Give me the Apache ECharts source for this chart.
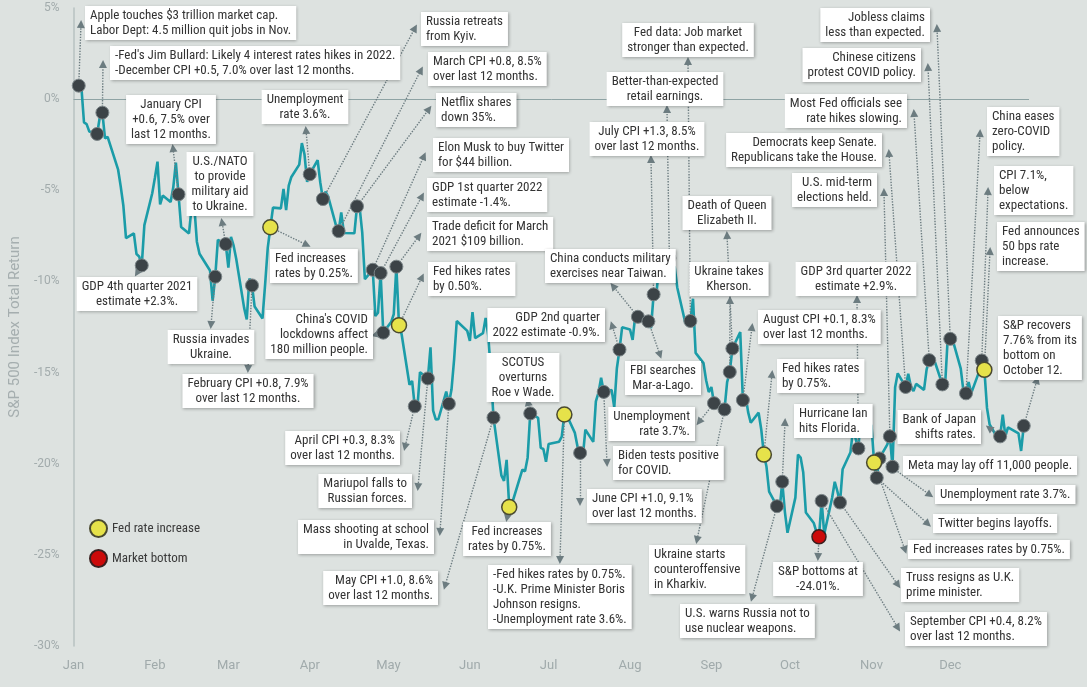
<!DOCTYPE html>
<html>
<head>
<meta charset="utf-8">
<title>S&P 500 2022</title>
<script src="https://cdn.jsdelivr.net/npm/echarts@6/dist/echarts.min.js"></script>
</head>
<body style="margin:0; background:#dde2e0">
<div id="chart" style="width:1087px;height:687px"></div>
<script>
// trading days of 2022 (MM-DD) and S&P 500 total return since 31 Dec 2021 (%)
var tradeDays = [
  '01-03','01-04','01-05','01-06','01-07','01-10','01-11','01-12','01-13','01-14','01-18','01-19','01-20','01-21','01-24','01-25','01-26','01-27','01-28','01-31',
  '02-01','02-02','02-03','02-04','02-07','02-08','02-09','02-10','02-11','02-14','02-15','02-16','02-17','02-18','02-22','02-23','02-24','02-25','02-28',
  '03-01','03-02','03-03','03-04','03-07','03-08','03-09','03-10','03-11','03-14','03-15','03-16','03-17','03-18','03-21','03-22','03-23','03-24','03-25','03-28','03-29','03-30','03-31',
  '04-01','04-04','04-05','04-06','04-07','04-08','04-11','04-12','04-13','04-14','04-18','04-19','04-20','04-21','04-22','04-25','04-26','04-27','04-28','04-29',
  '05-02','05-03','05-04','05-05','05-06','05-09','05-10','05-11','05-12','05-13','05-16','05-17','05-18','05-19','05-20','05-23','05-24','05-25','05-26','05-27','05-31',
  '06-01','06-02','06-03','06-06','06-07','06-08','06-09','06-10','06-13','06-14','06-15','06-16','06-17','06-21','06-22','06-23','06-24','06-27','06-28','06-29','06-30',
  '07-01','07-05','07-06','07-07','07-08','07-11','07-12','07-13','07-14','07-15','07-18','07-19','07-20','07-21','07-22','07-25','07-26','07-27','07-28','07-29',
  '08-01','08-02','08-03','08-04','08-05','08-08','08-09','08-10','08-11','08-12','08-15','08-16','08-17','08-18','08-19','08-22','08-23','08-24','08-25','08-26','08-29','08-30','08-31',
  '09-01','09-02','09-06','09-07','09-08','09-09','09-12','09-13','09-14','09-15','09-16','09-19','09-20','09-21','09-22','09-23','09-26','09-27','09-28','09-29','09-30',
  '10-03','10-04','10-05','10-06','10-07','10-10','10-11','10-12','10-13','10-14','10-17','10-18','10-19','10-20','10-21','10-24','10-25','10-26','10-27','10-28','10-31',
  '11-01','11-02','11-03','11-04','11-07','11-08','11-09','11-10','11-11','11-14','11-15','11-16','11-17','11-18','11-21','11-22','11-23','11-25','11-28','11-29','11-30',
  '12-01','12-02','12-05','12-06','12-07','12-08','12-09','12-12','12-13','12-14','12-15','12-16','12-19','12-20','12-21','12-22','12-23','12-27','12-28','12-29','12-30'
];
var totalReturn = [
  0.74, 0.67, -1.28, -1.37, -1.77, -1.91, -1.01, -0.74, -2.15, -2.07, -3.87, -4.80, -5.85, -7.63, -7.37, -8.50, -8.63, -9.12, -6.91, -5.16,
  -4.33, -3.43, -5.78, -5.29, -5.64, -4.85, -3.48, -5.22, -7.01, -7.37, -5.91, -5.83, -7.82, -8.48, -9.40, -11.06, -9.74, -7.72, -7.95,
  -9.24, -7.56, -8.04, -8.77, -11.45, -12.08, -9.84, -10.22, -11.38, -12.03, -10.16, -8.16, -7.03, -5.95, -5.99, -4.93, -6.09, -4.75, -4.27, -3.59, -2.41, -3.03, -4.54,
  -4.12, -3.35, -4.56, -5.48, -5.08, -5.33, -6.92, -7.24, -6.21, -7.34, -7.36, -5.88, -5.94, -7.32, -9.87, -9.36, -11.90, -11.72, -9.54, -12.81,
  -12.23, -11.80, -9.19, -12.40, -12.90, -15.67, -15.46, -16.85, -16.95, -14.98, -15.32, -13.62, -17.09, -17.57, -17.56, -16.04, -16.71, -15.93, -14.27, -12.17, -12.71,
  -13.26, -11.68, -13.11, -12.84, -12.01, -12.96, -15.01, -17.47, -20.64, -20.94, -19.79, -22.38, -22.21, -20.32, -20.42, -19.67, -17.24, -17.48, -19.13, -19.19, -19.89,
  -18.92, -18.79, -18.51, -17.30, -17.37, -18.31, -19.06, -19.41, -19.65, -18.13, -18.80, -16.58, -16.10, -15.28, -16.06, -15.95, -16.91, -14.76, -13.74, -12.52,
  -12.64, -13.21, -11.87, -11.94, -12.08, -12.19, -12.56, -10.71, -10.78, -9.25, -8.89, -8.72, -9.38, -9.17, -10.33, -12.23, -12.42, -12.17, -10.95, -13.92, -14.48, -15.42, -16.07,
  -15.79, -16.68, -17.02, -15.52, -14.97, -13.68, -12.78, -16.51, -16.23, -17.17, -17.75, -17.20, -18.12, -19.50, -20.17, -21.53, -22.33, -22.50, -20.99, -22.64, -23.79,
  -21.86, -19.50, -19.66, -20.48, -22.68, -23.25, -23.74, -24.01, -22.04, -23.86, -21.87, -20.99, -21.51, -22.13, -20.30, -19.37, -18.07, -18.67, -19.16, -17.19, -17.80,
  -17.91, -19.94, -20.77, -19.71, -18.95, -18.50, -20.17, -15.81, -15.04, -15.79, -15.07, -15.76, -16.02, -15.62, -15.95, -14.82, -14.32, -14.35, -15.65, -15.78, -13.21,
  -13.15, -13.25, -14.78, -15.99, -16.14, -15.52, -16.13, -14.95, -14.34, -14.85, -16.94, -17.85, -18.58, -18.50, -17.31, -18.48, -18.01, -18.34, -19.30, -17.92, -18.12
];
var monthNames = ['Jan','Feb','Mar','Apr','May','Jun','Jul','Aug','Sep','Oct','Nov','Dec'];

var fedDays = ['03-17','05-05','06-16','07-07','09-21','11-02','12-14'];
var bottomDays = ['10-12'];
var newsDays = ['01-03','01-10','01-12','01-27','02-10','02-24','02-28','03-10','04-01','04-06','04-12','04-19',
  '04-25','04-28','04-29','05-04','05-11','05-16','05-24','06-10','06-24','07-13','07-22','07-28','08-04','08-08',
  '08-10','08-16','08-24','09-02','09-06','09-08','09-09','09-13','09-26','09-28','10-13','10-20','10-27','11-03',
  '11-04','11-08','11-09','11-14','11-23','11-28','12-01','12-07','12-13','12-20','12-29'];

var noteDays = ['01-03','01-12','02-10','02-28','01-27','02-24','03-10','03-17','04-01','04-06','04-12','04-19',
  '04-25','04-28','05-04','05-05','04-29','05-11','05-16','05-24','06-10','06-16','06-24','07-07','07-13','07-22',
  '07-28','08-04','08-08','08-10','08-16','08-24','09-09','09-08','09-02','09-06','09-26','09-13','09-21','09-28',
  '10-27','10-12','10-13','10-20','11-02','11-03','11-04','11-09','11-08','11-14','11-23','11-28','12-01','12-07',
  '12-13','12-14','12-29','12-20'];
var noteTexts = [
  'Apple touches $3 trillion market cap.\nLabor Dept: 4.5 million quit jobs in Nov.',
  "-Fed's Jim Bullard: Likely 4 interest rates hikes in 2022.\n-December CPI +0.5, 7.0% over last 12 months.",
  'January CPI\n+0.6, 7.5% over\nlast 12 months.',
  'U.S./NATO\nto provide\nmilitary aid\nto Ukraine.',
  'GDP 4th quarter 2021\nestimate +2.3%.',
  'Russia invades\nUkraine.',
  'February CPI +0.8, 7.9%\nover last 12 months.',
  'Fed increases\nrates by 0.25%.',
  'Unemployment\nrate 3.6%.',
  'Russia retreats\nfrom Kyiv.',
  'March CPI +0.8, 8.5%\nover last 12 months.',
  'Netflix shares\ndown 35%.',
  'Elon Musk to buy Twitter\nfor $44 billion.',
  'GDP 1st quarter 2022\nestimate -1.4%.',
  'Trade deficit for March\n2021 $109 billion.',
  'Fed hikes rates\nby 0.50%.',
  "China's COVID\nlockdowns affect\n180 million people.",
  'April CPI +0.3, 8.3%\nover last 12 months.',
  'Mariupol falls to\nRussian forces.',
  'Mass shooting at school\nin Uvalde, Texas.',
  'May CPI +1.0, 8.6%\nover last 12 months.',
  'Fed increases\nrates by 0.75%.',
  'SCOTUS\noverturns\nRoe v Wade.',
  '-Fed hikes rates by 0.75%.\n-U.K. Prime Minister Boris\nJohnson resigns.\n-Unemployment rate 3.6%.',
  'June CPI +1.0, 9.1%\nover last 12 months.',
  'Biden tests positive\nfor COVID.',
  'GDP 2nd quarter\n2022 estimate -0.9%.',
  'China conducts military\nexercises near Taiwan.',
  'FBI searches\nMar-a-Lago.',
  'July CPI +1.3, 8.5%\nover last 12 months.',
  'Better-than-expected\nretail earnings.',
  'Fed data: Job market\nstronger than expected.',
  'Death of Queen\nElizabeth II.',
  'Ukraine takes\nKherson.',
  'Unemployment\nrate 3.7%.',
  'Ukraine starts\ncounteroffensive\nin Kharkiv.',
  'U.S. warns Russia not to\nuse nuclear weapons.',
  'August CPI +0.1, 8.3%\nover last 12 months.',
  'Fed hikes rates\nby 0.75%.',
  'Hurricane Ian\nhits Florida.',
  'GDP 3rd quarter 2022\nestimate +2.9%.',
  'S&P bottoms at\n-24.01%.',
  'September CPI +0.4, 8.2%\nover last 12 months.',
  'Truss resigns as U.K.\nprime minister.',
  'Fed increases rates by 0.75%.',
  'Twitter begins layoffs.',
  'Unemployment rate 3.7%.',
  'Meta may lay off 11,000 people.',
  'U.S. mid-term\nelections held.',
  'Democrats keep Senate.\nRepublicans take the House.',
  'Most Fed officials see\nrate hikes slowing.',
  'Chinese citizens\nprotest COVID policy.',
  'Jobless claims\nless than expected.',
  'China eases\nzero-COVID\npolicy.',
  'CPI 7.1%,\nbelow\nexpectations.',
  'Fed announces\n50 bps rate\nincrease.',
  'S&P recovers\n7.76% from its\nbottom on\nOctober 12.',
  'Bank of Japan\nshifts rates.'
];
// box anchor (align, x, y in px) and arrow tip (px)
var noteLayout = [
  ['left', 85, 6, 81, 24], ['left', 110, 46, 103, 64], ['center', 171, 95, 173, 148], ['center', 220, 152, 222, 222],
  ['center', 137, 277, 137, 273], ['center', 211, 330, 211, 325], ['center', 248, 374, 248, 369], ['left', 270, 249, 307, 245],
  ['center', 305, 90, 306, 130], ['left', 421, 12, 415, 28], ['left', 428, 52, 421, 70], ['left', 436, 93, 429, 109],
  ['left', 433, 138, 424, 156], ['left', 427, 178, 422, 196], ['left', 427, 217, 419, 236], ['left', 428, 262, 422, 277],
  ['right', 373, 310, 375, 335], ['right', 400, 431, 405, 447], ['right', 412, 474, 418, 487], ['right', 434, 520, 440, 532],
  ['right', 438, 571, 445, 586], ['center', 507, 522, 507, 518], ['center', 523, 353, 528, 402], ['left', 488, 565, 560, 560],
  ['left', 587, 489, 580, 502], ['left', 613, 446, 607, 463], ['right', 605, 308, 612, 325], ['left', 545, 249, 613, 286],
  ['center', 663, 361, 660, 355], ['center', 647, 122, 651, 159], ['center', 665, 72, 667, 109], ['center', 688, 23, 688, 61],
  ['center', 727, 196, 727, 235], ['center', 729, 262, 730, 300], ['right', 695, 407, 699, 422], ['left', 649, 545, 697, 540],
  ['left', 680, 604, 752, 598], ['left', 758, 310, 752, 327], ['left', 777, 359, 772, 374], ['left', 794, 404, 785, 422],
  ['center', 856, 262, 857, 299], ['center', 818, 562, 818, 557], ['left', 905, 612, 898, 628], ['left', 901, 568, 898, 585],
  ['left', 908, 540, 905, 550], ['left', 933, 514, 928, 524], ['left', 935, 485, 930, 495], ['left', 903, 456, null, null],
  ['right', 877, 173, 884, 192], ['right', 882, 133, 889, 153], ['right', 907, 94, 914, 113], ['right', 921, 48, 928, 67],
  ['right', 930, 8, 937, 28], ['left', 987, 107, 980, 133], ['left', 994, 166, 988, 191], ['left', 997, 222, 990, 251],
  ['left', 998, 316, 1037, 380], ['right', 981, 410, 989, 428]
];

var ts = function (d) { return new Date(2022, +d.slice(0, 2) - 1, +d.slice(3)).getTime(); };
var valueOn = {};
tradeDays.forEach(function (d, i) { valueOn[d] = totalReturn[i]; });
var pt = function (d) { return [ts(d), valueOn[d]]; };

var boxFont = "'Liberation Sans Narrow', 'Roboto Condensed', 'Roboto', sans-serif";

var arrows = [];
noteDays.forEach(function (d, i) {
  var L = noteLayout[i];
  if (L[3] != null) arrows.push([{ coord: pt(d) }, { x: L[3], y: L[4] }]);
});
var boxes = noteTexts.map(function (t, i) {
  var L = noteLayout[i];
  return { x: L[1], y: L[2], label: { align: L[0], formatter: t } };
});

var chart = echarts.init(document.getElementById('chart'));
var option = {
  animation: false,
  backgroundColor: '#dde2e0',
  textStyle: { fontFamily: 'Roboto' },
  grid: { left: 68, right: 58, top: 8, bottom: 41 },
  legend: {
    data: ['Fed rate increase', 'Market bottom'],
    orient: 'vertical', left: 84, top: 514,
    icon: 'circle', itemWidth: 17, itemHeight: 17, itemGap: 11,
    textStyle: { fontSize: 13, color: '#3a3a3a', fontFamily: boxFont },
    selectedMode: false
  },
  xAxis: {
    type: 'time',
    min: ts('01-01'), max: ts('12-31'),
    splitNumber: 12,
    minInterval: 28 * 86400000,
    maxInterval: 31 * 86400000,
    axisLine: { show: false },
    axisTick: { show: false },
    splitLine: { show: false },
    axisLabel: {
      color: '#a0aaab', fontSize: 13, margin: 13, showMaxLabel: false,
      formatter: function (v) { return monthNames[new Date(v).getMonth()]; }
    }
  },
  yAxis: {
    type: 'value', min: -30, max: 5, interval: 5,
    name: 'S&P 500 Index Total Return', nameLocation: 'middle', nameGap: 37,
    nameTextStyle: { fontSize: 15, color: '#a5aeaf' },
    axisLine: { show: true, lineStyle: { color: '#b7c2c2', width: 1.5 } },
    axisTick: { show: false },
    splitLine: { show: false },
    axisLabel: { formatter: '{value}%', color: '#a2abac', fontSize: 12, margin: 14 }
  },
  series: [
    {
      type: 'line', name: 'S&P 500', z: 2, silent: true,
      data: tradeDays.map(pt),
      showSymbol: false,
      lineStyle: { color: '#1b9ca8', width: 2.6 },
      markLine: {
        silent: true, z: 1, symbol: 'none',
        label: { show: false },
        lineStyle: { color: '#8ea3a4', width: 1, type: 'solid' },
        data: [{ yAxis: 0 }]
      }
    },
    {
      type: 'line', name: 'notes', data: [], silent: true,
      markLine: {
        silent: true, z: 4,
        symbol: ['none', 'triangle'], symbolSize: 8,
        label: { show: false },
        lineStyle: { color: '#6c7c80', width: 1.4, type: 'dotted' },
        data: arrows
      },
      markPoint: {
        silent: true, z: 9,
        symbol: 'circle', symbolSize: 0,
        itemStyle: { color: 'transparent' },
        label: {
          show: true, position: [0, 0], verticalAlign: 'top',
          backgroundColor: '#ffffff', padding: [2, 5, 2, 5],
          fontFamily: boxFont, fontSize: 13, lineHeight: 15, color: '#333333',
          shadowColor: 'rgba(0,0,0,0.3)', shadowBlur: 3, shadowOffsetX: 1, shadowOffsetY: 1
        },
        data: boxes
      }
    },
    {
      type: 'scatter', name: 'events', z: 6, silent: true,
      data: newsDays.map(pt), symbolSize: 13,
      itemStyle: { color: '#3c4347', borderColor: '#7b8588', borderWidth: 1, opacity: 1 }
    },
    {
      type: 'scatter', name: 'Fed rate increase', z: 7, silent: true,
      data: fedDays.map(pt), symbolSize: 15,
      itemStyle: { color: '#e6e24a', borderColor: '#4a4a30', borderWidth: 1.5, opacity: 1 }
    },
    {
      type: 'scatter', name: 'Market bottom', z: 7, silent: true,
      data: bottomDays.map(pt), symbolSize: 14,
      itemStyle: { color: '#cc0a0a', borderColor: '#3a2020', borderWidth: 1.5, opacity: 1 }
    }
  ]
};
chart.setOption(option);
</script>
</body>
</html>
